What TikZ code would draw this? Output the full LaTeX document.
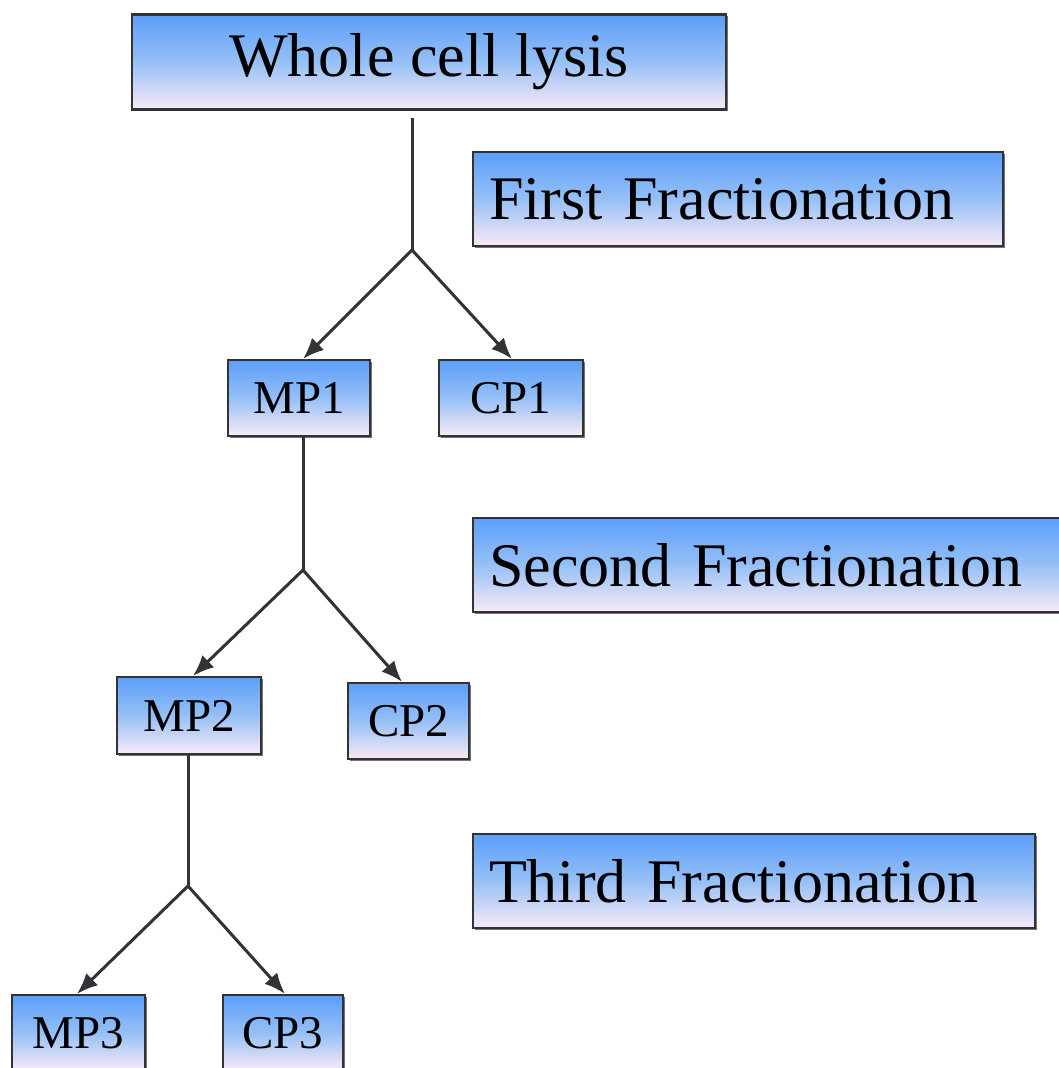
\documentclass[tikz,border=0pt]{standalone}
\usepackage{fontspec}
\setmainfont{Liberation Serif}
\usetikzlibrary{arrows.meta,shadows}
\definecolor{boxtop}{RGB}{92,158,250}
\definecolor{boxmid}{RGB}{150,192,246}
\definecolor{boxbot}{RGB}{250,234,248}
\definecolor{edge}{RGB}{50,50,55}
\tikzset{
  gradbox/.style={draw=edge, line width=2.2pt, top color=boxtop, bottom color=boxbot, middle color=boxmid,
    drop shadow={shadow xshift=1.5pt, shadow yshift=-1.5pt, fill=black!55, opacity=1},
    inner sep=0pt, text=black},
  bigbox/.style={gradbox, font=\fontsize{62}{70}\selectfont, minimum height=94pt},
  stagebox/.style={bigbox, align=left, inner xsep=16pt},
  smallbox/.style={gradbox, font=\fontsize{47}{52}\selectfont, minimum height=76pt},
  conn/.style={draw=edge, line width=3pt},
  arr/.style={conn, -{Latex[length=21pt,width=17pt]}}
}
\begin{document}
\begin{tikzpicture}[x=1pt,y=-1pt]
\useasboundingbox (0,0) rectangle (1059,1068);
\clip (0,0) rectangle (1059,1068);
\fill[white] (0,0) rectangle (1059,1068);
% main box
\node[bigbox, minimum width=594pt, minimum height=95pt] (whole) at (429,62) {Whole cell lysis};
% stage labels
\node[stagebox, text width=498pt] (first) at (738,199) {First Fractionation};
\node[stagebox, text width=570pt] (second) at (774,565) {Second Fractionation};
\node[stagebox, text width=530pt] (third) at (754,881) {Third Fractionation};
% fraction boxes
\node[smallbox, minimum width=142pt] (mp1) at (299,398) {MP1};
\node[smallbox, minimum width=144pt] (cp1) at (511,398) {CP1};
\node[smallbox, minimum width=144pt, minimum height=77pt] (mp2) at (189,715.5) {MP2};
\node[smallbox, minimum width=121pt] (cp2) at (408.5,721) {CP2};
\node[smallbox, minimum width=133pt] (mp3) at (78.5,1033) {MP3};
\node[smallbox, minimum width=120pt] (cp3) at (283,1033) {CP3};
% junction points
\coordinate (s1) at (412,118);
\coordinate (j1) at (412,250);
\coordinate (j2) at (303,570);
\coordinate (j3) at (188,886);
% connectors
\draw[conn] (s1) -- (j1);
\draw[arr] (j1) -- (mp1.north -| 303,0);
\draw[arr] (j1) -- (cp1.north -| 512,0);
\draw[conn] (mp1.south -| j2) -- (j2);
\draw[arr] (j2) -- (mp2.north -| 193,0);
\draw[arr] (j2) -- (cp2.north -| 402,0);
\draw[conn] (mp2.south -| j3) -- (j3);
\draw[arr] (j3) -- (mp3.north -| 77,0);
\draw[arr] (j3) -- (cp3.north -| 285,0);
\end{tikzpicture}
\end{document}
